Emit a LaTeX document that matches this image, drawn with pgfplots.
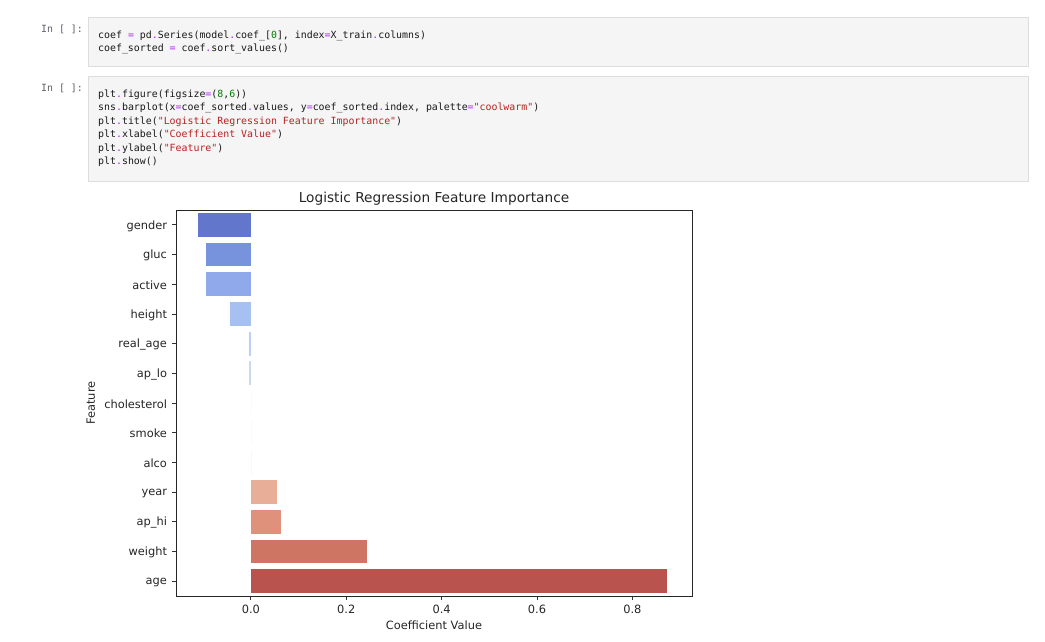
\documentclass[border=0pt]{standalone}
\usepackage{pgfplots}
\pgfplotsset{compat=1.18}
\usepackage{fontspec}
\setmainfont{DejaVu Sans}
\setmonofont{DejaVu Sans Mono}
\definecolor{opc}{HTML}{AA22FF}
\definecolor{strc}{HTML}{BA2121}
\definecolor{numc}{HTML}{008000}
\definecolor{codec}{HTML}{1A1A1A}
\definecolor{promptc}{HTML}{5F5F6A}
\definecolor{cellbg}{HTML}{F5F5F5}
\definecolor{cellbd}{HTML}{DDDDDD}
\definecolor{c1}{HTML}{6276CB}
\definecolor{c2}{HTML}{7793DD}
\definecolor{c3}{HTML}{8FA9EA}
\definecolor{c4}{HTML}{A6C0F2}
\definecolor{c5}{HTML}{BCCFF5}
\definecolor{c6}{HTML}{CDD9EE}
\definecolor{c7}{HTML}{DCDDDD}
\definecolor{c8}{HTML}{EED1C1}
\definecolor{c9}{HTML}{EFC0A8}
\definecolor{c10}{HTML}{E9AE97}
\definecolor{c11}{HTML}{DF917B}
\definecolor{c12}{HTML}{CF7563}
\definecolor{c13}{HTML}{B9534D}
\newcommand\op[1]{\textcolor{opc}{#1}}
\newcommand\st[1]{\textcolor{strc}{#1}}
\newcommand\nm[1]{\textcolor{numc}{#1}}
\newcommand\dq{\char34\relax}
\newcommand\codefont{\ttfamily\fontsize{9.9}{13.5}\selectfont}
\begin{document}
\begin{tikzpicture}[x=1pt,y=1pt]
\fill[white] (0,0) rectangle (1045,-641);
% code cells
\draw[cellbd, fill=cellbg] (88,-17) rectangle (1028,-66);
\draw[cellbd, fill=cellbg] (88,-76) rectangle (1028,-181);
\node[anchor=base west, inner sep=0, text=promptc, font=\codefont] at (41,-32) {In [ ]:};
\node[anchor=base west, inner sep=0, text=promptc, font=\codefont] at (41,-91) {In [ ]:};
\begin{scope}[every node/.style={anchor=base west, inner sep=0, text=codec, font=\codefont}]
\node at (98,-38) {coef \op{=} pd\op{.}Series(model\op{.}coef\_[\nm{0}], index\op{=}X\_train\op{.}columns)};
\node at (98,-51.5) {coef\_sorted \op{=} coef\op{.}sort\_values()};
\node at (98,-97) {plt\op{.}figure(figsize\op{=}(\nm{8},\nm{6}))};
\node at (98,-110.5) {sns\op{.}barplot(x\op{=}coef\_sorted\op{.}values, y\op{=}coef\_sorted\op{.}index, palette\op{=}\st{\dq coolwarm\dq})};
\node at (98,-124) {plt\op{.}title(\st{\dq Logistic Regression Feature Importance\dq})};
\node at (98,-137.5) {plt\op{.}xlabel(\st{\dq Coefficient Value\dq})};
\node at (98,-151) {plt\op{.}ylabel(\st{\dq Feature\dq})};
\node at (98,-164.5) {plt\op{.}show()};
\end{scope}
\begin{axis}[
  at={(176pt,-210pt)}, anchor=north west,
  width=516pt, height=386pt, scale only axis,
  xmin=-0.157, xmax=0.925,
  ymin=-0.5, ymax=12.5, y dir=reverse,
  ytick={0,1,2,3,4,5,6,7,8,9,10,11,12},
  yticklabels={gender,gluc,active,height,real\_age,ap\_lo,cholesterol,smoke,alco,year,ap\_hi,weight,age},
  xtick={0,0.2,0.4,0.6,0.8},
  xticklabel style={/pgf/number format/.cd, fixed, fixed zerofill, precision=1, assume math mode=true},
  ticklabel style={font=\fontsize{11.4}{13}\selectfont, text=black!85},
  yticklabel style={yshift=-1pt},
  tick align=outside, tick pos=left,
  major tick length=4pt,
  tick style={black!80, line width=0.8pt},
  axis line style={black!85, line width=0.9pt},
  xbar, bar width=0.8, bar shift=0pt,
  title={Logistic Regression Feature Importance},
  title style={at={(axis description cs:0.5,1)}, anchor=base, yshift=2pt, font=\fontsize{13.7}{16}\selectfont, text=black!85},
  xlabel={Coefficient Value},
  xlabel style={at={(axis description cs:0.5,0)}, anchor=base, yshift=-33pt, font=\fontsize{11.4}{13}\selectfont, text=black!85},
  ylabel={Feature},
  ylabel style={at={(axis description cs:-0.157,0.5)}, anchor=base, font=\fontsize{11.4}{13}\selectfont, text=black!85},
  xticklabel shift=1pt, yticklabel shift=1.5pt,
]
\addplot[fill=c1, draw=none] coordinates {(-0.111,0)};
\addplot[fill=c2, draw=none] coordinates {(-0.094,1)};
\addplot[fill=c3, draw=none] coordinates {(-0.094,2)};
\addplot[fill=c4, draw=none] coordinates {(-0.044,3)};
\addplot[fill=c5, draw=none] coordinates {(-0.004,4)};
\addplot[fill=c6, draw=none] coordinates {(-0.003,5)};
\addplot[fill=c7, draw=none] coordinates {(0.0,6)};
\addplot[fill=c8, draw=none] coordinates {(0.0,7)};
\addplot[fill=c9, draw=none] coordinates {(0.0,8)};
\addplot[fill=c10, draw=none] coordinates {(0.055,9)};
\addplot[fill=c11, draw=none] coordinates {(0.063,10)};
\addplot[fill=c12, draw=none] coordinates {(0.243,11)};
\addplot[fill=c13, draw=none] coordinates {(0.873,12)};
\end{axis}
\end{tikzpicture}
\end{document}
